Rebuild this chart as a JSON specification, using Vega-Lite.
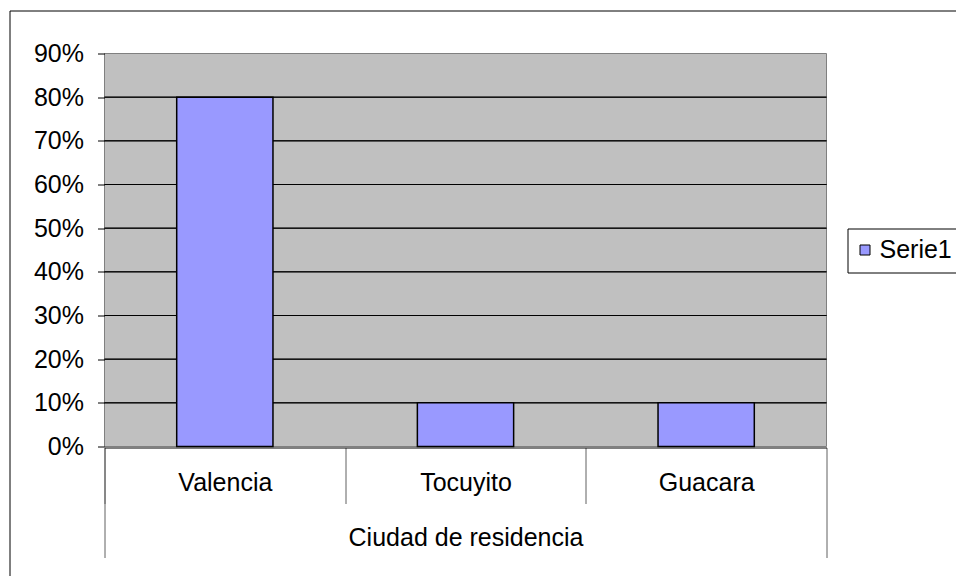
{
  "$schema": "https://vega.github.io/schema/vega-lite/v6.json",
  "width": 948,
  "height": 567,
  "autosize": {"type": "none"},
  "padding": {"left": 9.5, "top": 10.5, "right": 0, "bottom": 0},
  "background": "white",
  "config": {
    "view": {"stroke": "black", "strokeWidth": 1, "fill": "white"},
    "font": "Liberation Sans",
    "axis": {"labelFont": "Liberation Sans", "labelFontSize": 25, "labelColor": "black", "grid": false, "labelLimit": 0}
  },
  "resolve": {"scale": {"x": "independent"}, "axis": {"x": "independent"}},
  "layer": [
    {
      "layer": [
        {
          "data": {"values": [{"grupo": "Ciudad de residencia"}]},
          "mark": {"type": "rect", "fill": "#C0C0C0", "stroke": "#808080", "strokeWidth": 1},
          "encoding": {
            "x": {
              "field": "grupo", "type": "nominal",
              "scale": {"range": [95, 817], "paddingInner": 0, "paddingOuter": 0},
              "axis": {
                "title": null, "orient": "bottom", "offset": -130, "tickBand": "extent",
                "tickSize": 110, "tickColor": "#606060", "domain": false,
                "labelPadding": -32, "labelAngle": 0, "labelLimit": 0, "zindex": 1
              }
            },
            "y": {"datum": 0, "type": "quantitative"},
            "y2": {"datum": 0.9}
          }
        },
        {
          "data": {"values": [
            {"grupo": "Ciudad de residencia", "g": 0.1},
            {"grupo": "Ciudad de residencia", "g": 0.2},
            {"grupo": "Ciudad de residencia", "g": 0.3},
            {"grupo": "Ciudad de residencia", "g": 0.4},
            {"grupo": "Ciudad de residencia", "g": 0.5},
            {"grupo": "Ciudad de residencia", "g": 0.6},
            {"grupo": "Ciudad de residencia", "g": 0.7},
            {"grupo": "Ciudad de residencia", "g": 0.8}
          ]},
          "mark": {"type": "rect", "fill": null, "stroke": "black", "strokeWidth": 1},
          "encoding": {
            "x": {"field": "grupo", "type": "nominal"},
            "y": {"field": "g", "type": "quantitative"},
            "y2": {"field": "g"}
          }
        }
      ]
    },
    {
      "data": {"values": [
        {"ciudad": "Valencia", "pct": 0.8},
        {"ciudad": "Tocuyito", "pct": 0.1},
        {"ciudad": "Guacara", "pct": 0.1}
      ]},
      "mark": {"type": "bar", "stroke": "black", "strokeWidth": 1.5},
      "encoding": {
        "x": {
          "field": "ciudad", "type": "nominal", "sort": null,
          "scale": {"range": [95, 817], "paddingInner": 0.6, "paddingOuter": 0.3},
          "axis": {
            "title": null, "orient": "bottom", "offset": -130,
            "tickOffset": -120.33, "labelOffset": 120.33,
            "tickSize": 56, "tickColor": "#606060", "domain": true, "domainColor": "black",
            "domainWidth": 1, "labelPadding": -33, "labelAngle": 0, "zindex": 1
          }
        },
        "y": {
          "field": "pct", "type": "quantitative",
          "scale": {"domain": [0, 0.9], "range": [436, 43], "nice": false},
          "axis": {
            "title": null, "offset": -95, "values": [0, 0.1, 0.2, 0.3, 0.4, 0.5, 0.6, 0.7, 0.8, 0.9],
            "format": ".0%", "tickSize": 7, "tickColor": "black", "domain": false, "grid": false,
            "labelPadding": 14, "zindex": 1
          }
        },
        "color": {
          "datum": "Serie1",
          "scale": {"range": ["#9999FF"]},
          "legend": {
            "title": null, "orient": "none", "legendX": 838, "legendY": 218,
            "strokeColor": "black", "fillColor": "white", "padding": 9,
            "symbolType": "square", "symbolSize": 100, "symbolStrokeColor": "black",
            "symbolStrokeWidth": 1, "symbolOffset": -4, "labelOffset": 2, "labelLimit": 0,
            "labelFontSize": 25, "labelFont": "Liberation Sans", "labelColor": "black"
          }
        }
      }
    }
  ]
}
